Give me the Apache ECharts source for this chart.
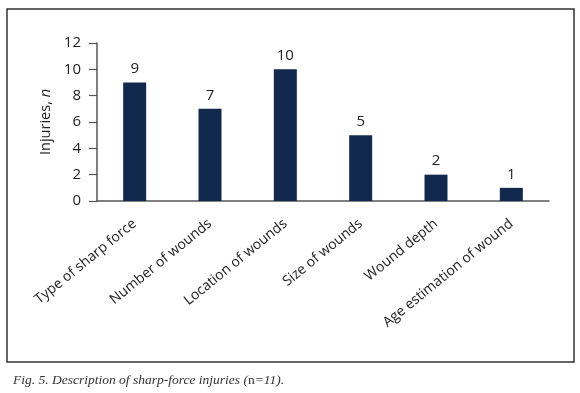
<!DOCTYPE html>
<html>
<head>
<meta charset="utf-8">
<script src="https://cdn.jsdelivr.net/npm/echarts@6/dist/echarts.min.js"></script>
<style>html,body{margin:0;padding:0;background:#fff;}#c{width:580px;height:393px;}</style>
</head>
<body>
<div id="c"></div>
<script>
var categories = ['Type of sharp force', 'Number of wounds', 'Location of wounds', 'Size of wounds', 'Wound depth', 'Age estimation of wound'];
var injuries = [9, 7, 10, 5, 2, 1];
var yTicks = [0, 2, 4, 6, 8, 10, 12];

var FONT = '"Open Sans", sans-serif';
var chart = echarts.init(document.getElementById('c'), null, {renderer: 'canvas'});
chart.setOption({
  animation: false,
  backgroundColor: '#ffffff',
  title: {
    left: 8, top: 368,
    text: '{i|Fig. 5. Description of sharp-force injuries (}{r|n}{i|=11).}',
    textStyle: {
      fontWeight: 'normal',
      rich: {
        i: {fontFamily: '"Liberation Serif", serif', fontStyle: 'italic', fontWeight: 'normal', fontSize: 13.5, color: '#333'},
        r: {fontFamily: '"Liberation Serif", serif', fontStyle: 'normal', fontWeight: 'normal', fontSize: 13.5, color: '#333'}
      }
    }
  },
  graphic: [{
    type: 'rect', shape: {x: 7, y: 9, width: 567, height: 353},
    style: {fill: 'none', stroke: '#333', lineWidth: 1.5}, silent: true
  }],
  grid: {left: 97, right: 31, top: 43, bottom: 192, containLabel: false},
  xAxis: {
    type: 'category',
    data: categories,
    axisLine: {lineStyle: {color: '#555', width: 1.5}},
    axisTick: {show: false},
    axisLabel: {interval: 0, rotate: 39, fontFamily: FONT, fontSize: 14, color: '#222', margin: 21}
  },
  yAxis: {
    type: 'value',
    min: yTicks[0], max: yTicks[yTicks.length - 1], interval: 2,
    name: '{a|Injuries, }{b|n}',
    nameLocation: 'middle',
    nameGap: 38,
    nameTextStyle: {
      rich: {
        a: {fontFamily: FONT, fontSize: 14.5, color: '#222'},
        b: {fontFamily: FONT, fontSize: 14.5, fontStyle: 'italic', color: '#222'}
      }
    },
    splitLine: {show: false},
    axisLine: {show: true, lineStyle: {color: '#555', width: 1.5}},
    axisTick: {show: true, length: 8, lineStyle: {color: '#555', width: 1.2}},
    axisLabel: {fontFamily: FONT, fontSize: 15, color: '#222', margin: 16}
  },
  series: [{
    type: 'bar',
    data: injuries,
    barWidth: 23,
    itemStyle: {color: '#12294d'},
    label: {show: true, position: 'top', distance: 6, fontFamily: FONT, fontSize: 15, color: '#222'}
  }]
});
</script>
</body>
</html>
